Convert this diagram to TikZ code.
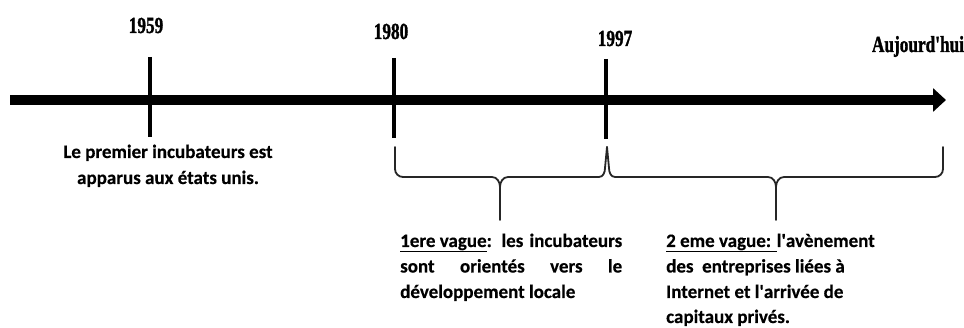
\documentclass[tikz,border=0pt]{standalone}
\usepackage{fontspec}
\usepackage{graphicx}
\setmainfont{Carlito}[BoldFeatures={FakeBold=0.4}]
\newfontfamily\yearfont{Liberation Serif}[BoldFeatures={FakeBold=1.6}]
\usetikzlibrary{arrows.meta}
\tikzset{
  yearlbl/.style={font=\yearfont\bfseries\fontsize{23}{23}\selectfont, inner sep=0pt, anchor=base},
  tickline/.style={line width=4pt},
  descline/.style={font=\bfseries\fontsize{19}{26}\selectfont, inner sep=0pt, anchor=base west},
  evline/.style={font=\bfseries\fontsize{19}{26}\selectfont, inner sep=0pt, anchor=base},
  bracepath/.style={line width=1.8pt, line join=round, line cap=round, draw=black!85}
}
\newcommand{\yr}[1]{\scalebox{0.75}[1]{#1}}
\newcommand{\q}{\textquotesingle}
\begin{document}
\begin{tikzpicture}[x=1pt,y=-1pt]
  \fill[white] (0,0) rectangle (964,328);
  \useasboundingbox (0,0) rectangle (964,328);

  % main axis
  \coordinate (start) at (10,100);
  \coordinate (end) at (946,100);
  \draw[line width=10pt, -{Triangle[length=13pt,width=23pt]}] (start) -- (end);

  % ticks
  \coordinate (t1a) at (150,57);  \coordinate (t1b) at (150,137);
  \coordinate (t2a) at (394,58);  \coordinate (t2b) at (394,138);
  \coordinate (t3a) at (606,59);  \coordinate (t3b) at (606,139);
  \draw[tickline] (t1a) -- (t1b);
  \draw[tickline] (t2a) -- (t2b);
  \draw[tickline] (t3a) -- (t3b);

  % year labels
  \node[yearlbl] (y1959) at (146,33) {\yr{1959}};
  \node[yearlbl] (y1980) at (391,39) {\yr{1980}};
  \node[yearlbl] (y1997) at (615,46) {\yr{1997}};
  \node[yearlbl] (yauj) at (918,52) {\yr{Aujourd\q hui}};

  % first event text
  \node[evline] (ev1a) at (168,158) {Le premier incubateurs est};
  \node[evline] (ev1b) at (168,184) {apparus aux états unis.};

  % braces
  \draw[bracepath] (395,147) -- (395,169) to[out=-90,in=180] (403,177)
     -- (492,177) to[out=0,in=90] (500,187) -- (500,220);
  \draw[bracepath] (500,187) to[out=90,in=180] (508,177)
     -- (599,177) to[out=0,in=-90] (605,168) -- (607,147);
  \draw[bracepath] (607,147) -- (609,168) to[out=-90,in=180] (615,177)
     -- (768,177) to[out=0,in=90] (776,187) -- (776,220);
  \draw[bracepath] (776,187) to[out=90,in=180] (784,177)
     -- (935,177) to[out=0,in=-90] (943,169) -- (943,147);

  % first wave text
  \node[descline] (w1a) at (400,247) {\makebox[222pt][s]{\underline{1ere vague}: les incubateurs}};
  \node[descline] (w1b) at (400,272.5) {\makebox[222pt][s]{sont orientés vers le}};
  \node[descline] (w1c) at (400,298) {développement locale};

  % second wave text
  \node[descline] (w2a) at (666,247) {\underline{2 eme vague: }l\q avènement};
  \node[descline] (w2b) at (666,272.5) {des\ \ entreprises liées à};
  \node[descline] (w2c) at (666,298) {Internet et l\q arrivée de};
  \node[descline] (w2d) at (666,323) {capitaux privés.};
\end{tikzpicture}
\end{document}
